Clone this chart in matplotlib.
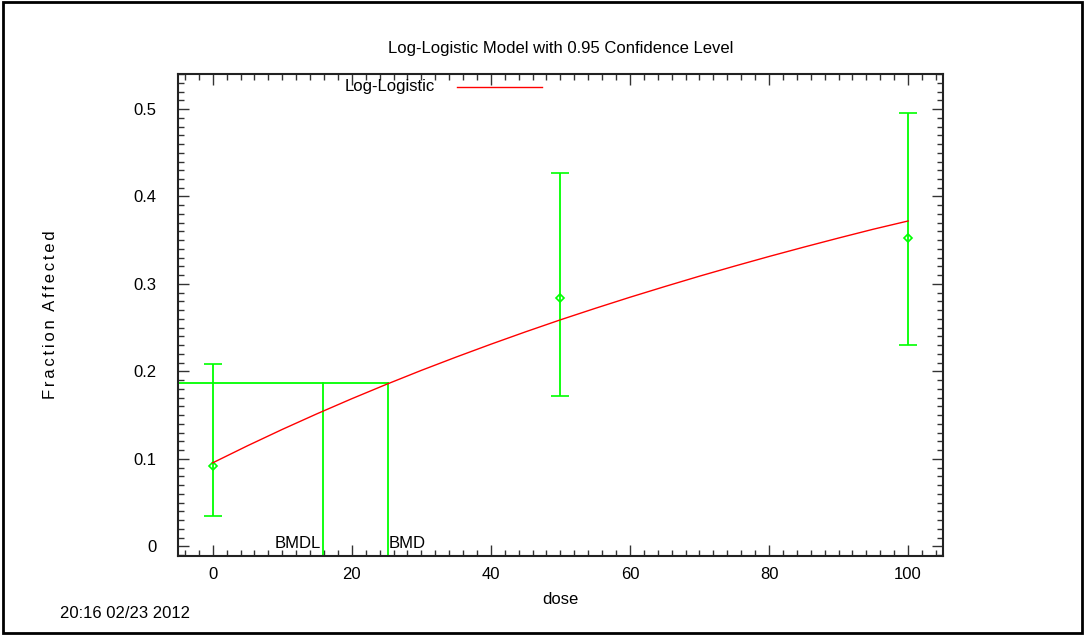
"""
Log-logistic dose-response fit with 0.95 confidence bars, BMD / BMDL markers.
"""
import matplotlib
matplotlib.use("Agg")
import matplotlib.pyplot as plt
from matplotlib.ticker import MultipleLocator, FixedLocator, FixedFormatter
from matplotlib.patches import Rectangle

plt.rcParams["font.family"] = ["Liberation Sans", "DejaVu Sans"]

# observed data (fraction affected) with 95% limits
doses = [0, 50, 100]
frac_mean = [0.0914, 0.2838, 0.3523]
frac_lower = [0.0343, 0.1720, 0.2305]
frac_upper = [0.2080, 0.4266, 0.4950]

# fitted curve
curve_dose = [0, 5, 10, 15, 20, 25, 30, 35, 40, 45, 50,
              55, 60, 65, 70, 75, 80, 85, 90, 95, 100]
curve_frac = [0.0955, 0.1150, 0.1337, 0.1516, 0.1688, 0.1853, 0.2012,
              0.2164, 0.2311, 0.2453, 0.2590, 0.2721, 0.2848, 0.2970,
              0.3089, 0.3203, 0.3314, 0.3421, 0.3525, 0.3626, 0.3720]

bmd = 25.2
bmdl = 15.8
bmr_level = 0.1863

y_ticks = [0, 0.1, 0.2, 0.3, 0.4, 0.5]
y_tick_labels = ["0", "0.1", "0.2", "0.3", "0.4", "0.5"]
x_ticks = [0, 20, 40, 60, 80, 100]

GREEN = "#00ff00"
RED = "#ff0000"
FS = 12

fig = plt.figure(figsize=(10.85, 6.36), dpi=100)
ax = fig.add_axes([0.164, 0.1258, 0.705, 0.7578])

xmin, xmax = -5, 105
ymin, ymax = -0.011, 0.540

# error bars
err_lo = [m - lo for m, lo in zip(frac_mean, frac_lower)]
err_hi = [hi - m for m, hi in zip(frac_mean, frac_upper)]
ax.errorbar(doses, frac_mean, yerr=[err_lo, err_hi], fmt="D", ms=4,
            mfc="none", mec=GREEN, mew=1.2, color=GREEN, ecolor=GREEN,
            elinewidth=1.3, capsize=6.5, capthick=1.3, zorder=3)

# fitted model
ax.plot(curve_dose, curve_frac, color=RED, lw=1.0, zorder=4,
        label="Log-Logistic")

# BMD / BMDL lines
ax.plot([xmin, bmd], [bmr_level, bmr_level], color=GREEN, lw=1.3, zorder=2)
ax.plot([bmdl, bmdl], [ymin, bmr_level], color=GREEN, lw=1.3, zorder=2)
ax.plot([bmd, bmd], [ymin, bmr_level], color=GREEN, lw=1.3, zorder=2)
ax.text(bmdl - 0.2, 0.003, "BMDL", ha="right", va="center", fontsize=FS)
ax.text(bmd + 0.1, 0.003, "BMD", ha="left", va="center", fontsize=FS)

ax.set_xlim(xmin, xmax)
ax.set_ylim(ymin, ymax)

ax.xaxis.set_major_locator(FixedLocator(x_ticks))
ax.xaxis.set_minor_locator(MultipleLocator(2))
ax.yaxis.set_major_locator(FixedLocator(y_ticks))
ax.yaxis.set_major_formatter(FixedFormatter(y_tick_labels))
ax.yaxis.set_minor_locator(MultipleLocator(0.01))
ax.tick_params(which="both", direction="in", top=True, right=True,
               labelsize=FS, width=1.0, color="#333333")
ax.tick_params(which="major", length=8)
ax.tick_params(which="minor", length=4)
ax.tick_params(axis="x", which="major", pad=8)
ax.tick_params(axis="y", which="major", pad=15.5)
for sp in ax.spines.values():
    sp.set_linewidth(1.5)
    sp.set_color("#222222")

# gnuplot spreads the letters of the y label a little
ylabel = "  ".join("\u2006".join(w) for w in "Fraction Affected".split())
ax.set_xlabel("dose", fontsize=FS, labelpad=7)
ax.set_ylabel(ylabel, fontsize=FS, labelpad=54)
ax.set_title("Log-Logistic Model with 0.95 Confidence Level", fontsize=FS,
             pad=15)

# legend drawn like gnuplot's key
fig.text(435 / 1085, 1 - 87 / 636, "Log-Logistic", ha="right", va="center",
         fontsize=FS)
fig.add_artist(plt.Line2D([457 / 1085, 542 / 1085],
                          [1 - 87 / 636, 1 - 87 / 636], color=RED, lw=1.0))

fig.text(60 / 1085, 1 - 614 / 636, "20:16 02/23 2012", ha="left",
         va="center", fontsize=FS)

fig.add_artist(Rectangle((0.003, 0.004), 0.994, 0.993, fill=False,
                         lw=2.0, ec="black", transform=fig.transFigure))

plt.savefig("out.png", dpi=100)
plt.close()
